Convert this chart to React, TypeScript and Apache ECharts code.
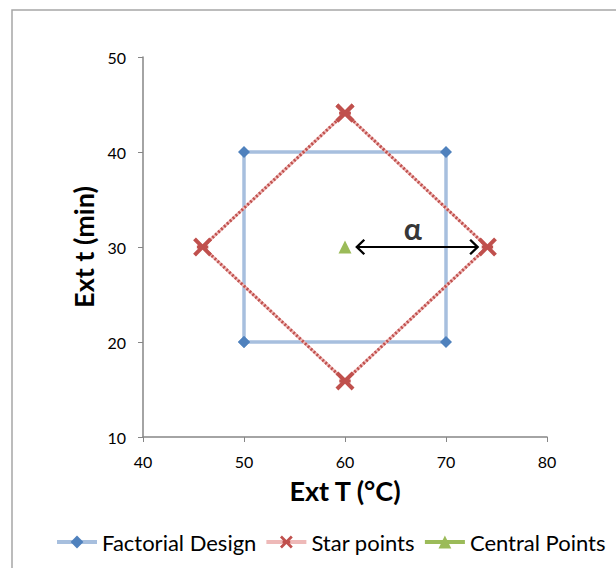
import React, { useEffect, useRef } from "react";
import * as echarts from "echarts";

const xTicks = { min: 40, max: 80, interval: 10 };
const yTicks = { min: 10, max: 50, interval: 10 };

const factorialDesign: [number, number][] = [
  [50, 20],
  [50, 40],
  [70, 40],
  [70, 20],
  [50, 20],
];
const starPoints: [number, number][] = [
  [60, 44.1],
  [74.1, 30],
  [60, 15.9],
  [45.9, 30],
  [60, 44.1],
];
const centralPoints: [number, number][] = [[60, 30]];
const alphaArrow: [number, number][] = [
  [61.2, 30],
  [73.1, 30],
];
const alphaLabelPos: [number, number][] = [[66.7, 32]];

const FONT = "Lato, 'Liberation Sans', sans-serif";
const X_PATH =
  "path://M0,3 L3,0 L10,7 L17,0 L20,3 L13,10 L20,17 L17,20 L10,13 L3,20 L0,17 L7,10 Z M4,8.5 L16,8.5 L16,11.5 L4,11.5 Z";
const CHEVRON = "path://M0,10 L10,0 L20,10 L18,12 L10,4 L2,12 Z";

export default function App() {
  const ref = useRef<HTMLDivElement>(null);
  useEffect(() => {
    if (!ref.current) return;
    const chart = echarts.init(ref.current, undefined, { renderer: "svg" });
    chart.setOption({
      animation: false,
      backgroundColor: "#fff",
      textStyle: { fontFamily: FONT },
      graphic: [
        {
          type: "rect",
          shape: { x: 12, y: 10, width: 640, height: 600 },
          style: { fill: "none", stroke: "#a6a6a6", lineWidth: 1.5 },
          silent: true,
          z: -1,
        },
      ],
      grid: { left: 143, top: 57, width: 404, height: 380 },
      xAxis: {
        type: "value",
        min: xTicks.min,
        max: xTicks.max,
        interval: xTicks.interval,
        name: "Ext T (°C)",
        nameLocation: "middle",
        nameGap: 40,
        nameTextStyle: { fontSize: 27, fontWeight: "bold", color: "#000", fontFamily: FONT },
        axisLine: { lineStyle: { color: "#868686", width: 1.5 } },
        axisTick: { show: true, length: 5, lineStyle: { color: "#868686" } },
        axisLabel: { fontSize: 16, color: "#000", margin: 16, fontFamily: FONT },
        splitLine: { show: false },
      },
      yAxis: {
        type: "value",
        min: yTicks.min,
        max: yTicks.max,
        interval: yTicks.interval,
        name: "Ext t (min)",
        nameLocation: "middle",
        nameGap: 42,
        nameTextStyle: { fontSize: 27, fontWeight: "bold", color: "#000", fontFamily: FONT },
        axisLine: { show: true, lineStyle: { color: "#868686", width: 1.5 } },
        axisTick: { show: true, length: 5, lineStyle: { color: "#868686" } },
        axisLabel: { fontSize: 16, color: "#000", margin: 17, fontFamily: FONT },
        splitLine: { show: false },
      },
      legend: {
        data: ["Factorial Design", "Star points", "Central Points"],
        bottom: 10,
        left: 50,
        itemWidth: 40,
        itemHeight: 16,
        itemGap: 8,
        lineStyle: { width: 4 },
        textStyle: { fontSize: 22, color: "#000", fontFamily: FONT },
      },
      series: [
        {
          name: "Factorial Design",
          type: "line",
          data: factorialDesign,
          symbol: "diamond",
          symbolSize: 12,
          itemStyle: { color: "#4f81bd" },
          lineStyle: { color: "#a7bfde", width: 3.5 },
          z: 2,
        },
        {
          name: "Star points",
          type: "line",
          data: starPoints,
          symbol: X_PATH,
          symbolSize: 19,
          itemStyle: { color: "#c0504d" },
          lineStyle: { color: "#eeb9b8", width: 3 },
          z: 3,
        },
        {
          name: "Star overlay",
          type: "line",
          data: starPoints,
          symbol: "none",
          lineStyle: { color: "#c0504d", width: 3, type: [2, 2] },
          z: 3,
          silent: true,
        },
        {
          name: "Central Points",
          type: "line",
          data: centralPoints,
          symbol: "triangle",
          symbolSize: 13,
          itemStyle: { color: "#9bbb59" },
          lineStyle: { color: "#9bbb59", width: 3.5 },
          z: 4,
        },
        {
          name: "alpha",
          type: "line",
          data: alphaArrow,
          symbol: "none",
          lineStyle: { color: "#000", width: 2 },
          silent: true,
          z: 5,
          markPoint: {
            silent: true,
            symbol: CHEVRON,
            symbolSize: [16, 10],
            itemStyle: { color: "#000" },
            label: { show: false },
            data: [
              { coord: alphaArrow[0], symbolRotate: 90, symbolOffset: [3, 0] },
              { coord: alphaArrow[1], symbolRotate: -90, symbolOffset: [-3, 0] },
            ],
          },
        },
        {
          name: "alphaLabel",
          type: "scatter",
          data: alphaLabelPos,
          symbolSize: 0,
          silent: true,
          label: {
            show: true,
            formatter: "α",
            position: "inside",
            fontSize: 30,
            fontWeight: "bold",
            color: "#000",
            fontFamily: FONT,
          },
          z: 5,
        },
      ],
    });
    return () => chart.dispose();
  }, []);
  return (
    <div
      ref={ref}
      style={{ position: "fixed", left: 0, top: 0, width: 616, height: 568 }}
    />
  );
}
